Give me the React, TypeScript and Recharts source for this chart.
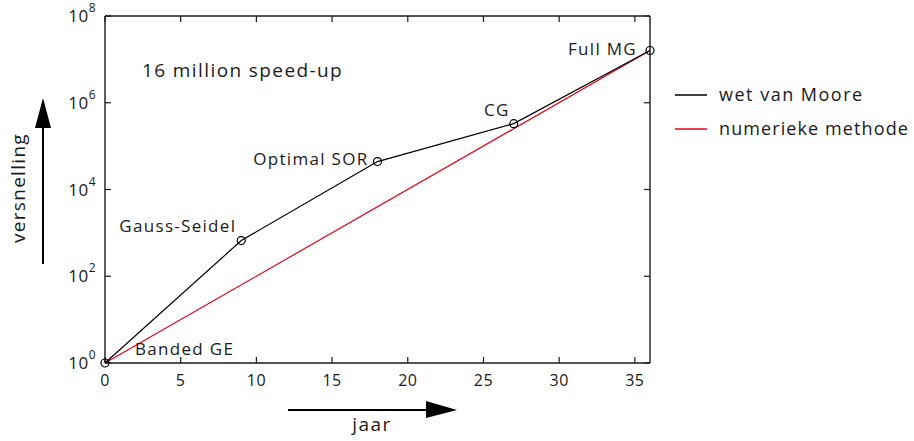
import { LabelList, Line, LineChart, XAxis, YAxis } from "recharts"

// measured points (years since start, speed-up factor)
const methodYears = [0, 9, 18, 27, 36]
const methodNames = ["Banded GE", "Gauss-Seidel", "Optimal SOR", "CG", "Full MG"]
const methodSpeedup = [1, 665, 44000, 330000, 16000000]

const trendYears = [0, 36]
const trendSpeedup = [1, 16000000]

const xTicks = [0, 5, 10, 15, 20, 25, 30, 35]
const yTicks = [1, 1e2, 1e4, 1e6, 1e8]

const FONT = "'Open Sans', 'DejaVu Sans', sans-serif"
const INK = "#1a1a1a"

const methodData = methodYears.map((x, i) => ({ x, y: methodSpeedup[i], label: methodNames[i] }))
const trendData = trendYears.map((x, i) => ({ x, y: trendSpeedup[i] }))

// where each label sits relative to its point
const labelOffset: Record<string, { dx: number; dy: number; anchor: "start" | "end" }> = {
  "Banded GE": { dx: 30, dy: -8, anchor: "start" },
  "Gauss-Seidel": { dx: -5, dy: -9, anchor: "end" },
  "Optimal SOR": { dx: -9, dy: 3, anchor: "end" },
  CG: { dx: -4, dy: -8, anchor: "end" },
  "Full MG": { dx: -13, dy: 4, anchor: "end" },
}

function PointLabel(props: any) {
  const { x, y, value } = props
  const o = labelOffset[value] || { dx: 0, dy: 0, anchor: "start" }
  return (
    <text
      x={x + o.dx}
      y={y + o.dy}
      textAnchor={o.anchor}
      fontSize={17}
      letterSpacing={1.3}
      fontFamily={FONT}
      fill={INK}
    >
      {value}
    </text>
  )
}

function BottomTick({ x, y, payload }: any) {
  return (
    <g>
      <line x1={x} x2={x} y1={y} y2={y - 6} stroke={INK} strokeWidth={1.2} />
      <text x={x} y={y + 23} textAnchor="middle" fontSize={16} letterSpacing={0.5} fontFamily={FONT} fill={INK}>
        {payload.value}
      </text>
    </g>
  )
}

function TopTick({ x, y }: any) {
  return <line x1={x} x2={x} y1={y} y2={y + 6} stroke={INK} strokeWidth={1.2} />
}

function LeftTick({ x, y, payload }: any) {
  const exp = Math.round(Math.log10(payload.value))
  return (
    <g>
      <line x1={x} x2={x + 6} y1={y} y2={y} stroke={INK} strokeWidth={1.2} />
      <text x={x - 9} y={y + 6} textAnchor="end" fontSize={17} letterSpacing={0.5} fontFamily={FONT} fill={INK}>
        10
        <tspan dy={-10} fontSize={12}>
          {exp}
        </tspan>
      </text>
    </g>
  )
}

function RightTick({ x, y }: any) {
  return <line x1={x} x2={x - 6} y1={y} y2={y} stroke={INK} strokeWidth={1.2} />
}

const axisLine = { stroke: INK, strokeWidth: 1.4 }

export default function App() {
  return (
    <div style={{ position: "absolute", left: 0, top: 0, width: 914, height: 441, background: "#fff" }}>
      <LineChart width={914} height={441} margin={{ top: 15, right: 263, left: 45, bottom: 48 }}>
        <XAxis
          xAxisId="bottom"
          type="number"
          dataKey="x"
          domain={[0, 36]}
          ticks={xTicks}
          tickSize={0}
          tickMargin={0}
          tick={<BottomTick />}
          tickLine={false}
          axisLine={axisLine}
          height={30}
        />
        <XAxis
          xAxisId="top"
          orientation="top"
          type="number"
          dataKey="x"
          domain={[0, 36]}
          ticks={xTicks}
          tickSize={0}
          tickMargin={0}
          tick={<TopTick />}
          tickLine={false}
          axisLine={axisLine}
          height={1}
        />
        <YAxis
          yAxisId="left"
          type="number"
          dataKey="y"
          scale="log"
          domain={[1, 1e8]}
          ticks={yTicks}
          tickSize={0}
          tickMargin={0}
          tick={<LeftTick />}
          tickLine={false}
          axisLine={axisLine}
          width={60}
        />
        <YAxis
          yAxisId="right"
          orientation="right"
          type="number"
          dataKey="y"
          scale="log"
          domain={[1, 1e8]}
          ticks={yTicks}
          tickSize={0}
          tickMargin={0}
          tick={<RightTick />}
          tickLine={false}
          axisLine={axisLine}
          width={1}
        />
        {/* invisible copy so the mirrored top/right axes get drawn */}
        <Line
          xAxisId="top"
          yAxisId="right"
          data={trendData}
          dataKey="y"
          stroke="none"
          dot={false}
          legendType="none"
          isAnimationActive={false}
        />
        <Line
          xAxisId="bottom"
          yAxisId="left"
          data={trendData}
          dataKey="y"
          name="numerieke methode"
          stroke="#e3001b"
          strokeWidth={1.2}
          dot={false}
          isAnimationActive={false}
        />
        <Line
          xAxisId="bottom"
          yAxisId="left"
          data={methodData}
          dataKey="y"
          name="wet van Moore"
          stroke="#000"
          strokeWidth={1.2}
          dot={{ r: 4, fill: "none", stroke: "#000", strokeWidth: 1.2 }}
          isAnimationActive={false}
        >
          <LabelList dataKey="label" content={<PointLabel />} />
        </Line>
      </LineChart>

      <svg
        width={914}
        height={441}
        style={{ position: "absolute", left: 0, top: 0, pointerEvents: "none" }}
      >
        <text x={142} y={77} fontSize={19} letterSpacing={1.4} fontFamily={FONT} fill={INK}>
          16 million speed-up
        </text>

        {/* y-axis title with arrow */}
        <text
          x={20}
          y={188}
          transform="rotate(-90 20 188)"
          textAnchor="middle"
          dominantBaseline="middle"
          fontSize={19}
          letterSpacing={1.3}
          fontFamily={FONT}
          fill={INK}
        >
          versnelling
        </text>
        <line x1={43} x2={43} y1={264} y2={125} stroke="#000" strokeWidth={2} />
        <polygon points="43,98 35,128 51,128" fill="#000" />

        {/* x-axis title with arrow */}
        <line x1={288} x2={430} y1={410} y2={410} stroke="#000" strokeWidth={2} />
        <polygon points="457,410 426,401 426,418" fill="#000" />
        <text x={372} y={431} textAnchor="middle" fontSize={19} letterSpacing={1.5} fontFamily={FONT} fill={INK}>
          jaar
        </text>

        {/* legend */}
        <line x1={675} x2={707} y1={95} y2={95} stroke="#000" strokeWidth={1.5} />
        <text x={719} y={101} fontSize={18} letterSpacing={1.5} fontFamily={FONT} fill={INK}>
          wet van Moore
        </text>
        <line x1={675} x2={707} y1={129} y2={129} stroke="#e3001b" strokeWidth={1.5} />
        <text x={719} y={135} fontSize={18} letterSpacing={1.1} fontFamily={FONT} fill={INK}>
          numerieke methode
        </text>
      </svg>
    </div>
  )
}
